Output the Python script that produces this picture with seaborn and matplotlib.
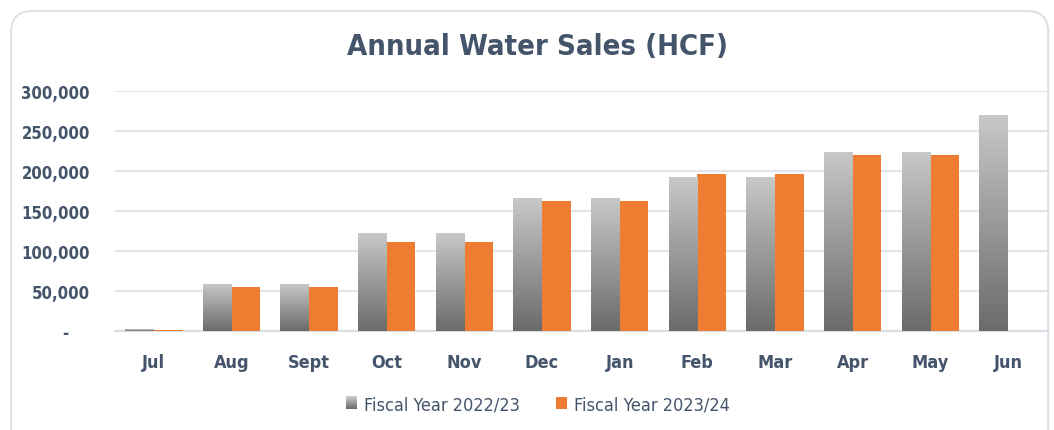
import numpy as np
import pandas as pd
import matplotlib
matplotlib.use("Agg")
import matplotlib.pyplot as plt
import seaborn as sns
from matplotlib.patches import Rectangle, FancyBboxPatch
from matplotlib.legend_handler import HandlerBase
from matplotlib.ticker import FuncFormatter, MultipleLocator

# --------------------------------------
# DATA
# --------------------------------------
months = ["Jul", "Aug", "Sept", "Oct", "Nov", "Dec",
          "Jan", "Feb", "Mar", "Apr", "May", "Jun"]
fy_2223 = [1500, 59000, 59000, 122000, 122000, 166000,
           166000, 192000, 192000, 224000, 224000, 270000]
fy_2324 = [1200, 55000, 55000, 111000, 111000, 162500,
           162500, 195500, 195500, 220000, 220000, np.nan]
series_names = ["Fiscal Year 2022/23", "Fiscal Year 2023/24"]

TEXT = "#44546A"
ORANGE = "#ED7D31"
GRID = "#e1e5eb"

sns.set_theme(style="white")
plt.rcParams["font.family"] = ["DejaVu Sans"]
plt.rcParams["font.stretch"] = "condensed"

df = pd.DataFrame({
    "Month": months * 2,
    "HCF": fy_2223 + fy_2324,
    "Series": [series_names[0]] * 12 + [series_names[1]] * 12,
})

fig = plt.figure(figsize=(10.54, 4.31), dpi=100)

# card outline
card = FancyBboxPatch((0.0105, -0.1), 0.984, 1.072,
                      boxstyle="round,pad=0,rounding_size=0.02",
                      transform=fig.transFigure, facecolor="white",
                      edgecolor="#dde1e7", linewidth=1.5, zorder=-5,
                      mutation_aspect=1054 / 431)
fig.patches.append(card)

ax = fig.add_axes([0.1091, 0.2304, 0.8840, 0.5568])
ax.set_zorder(2)
ax.set_facecolor("none")

sns.barplot(data=df, x="Month", y="HCF", hue="Series", order=months,
            hue_order=series_names, palette=["#9a9a9a", ORANGE],
            width=0.74, saturation=1, errorbar=None, legend=False,
            linewidth=0, ax=ax, zorder=3)

# vertical grey gradient on the 2022/23 bars
cmap = matplotlib.colors.LinearSegmentedColormap.from_list("g", ["#6b6b6b", "#c8c8c8"])
grad = np.linspace(0, 1, 256).reshape(-1, 1)
for bar in ax.containers[0]:
    x, w, h = bar.get_x(), bar.get_width(), bar.get_height()
    if not np.isfinite(h) or h <= 0:
        continue
    bar.set_facecolor("none")
    im = ax.imshow(grad, extent=[x, x + w, 0, h], origin="lower",
                   cmap=cmap, aspect="auto", zorder=3)
    im.set_clip_path(bar)

ax.set_xlim(-0.5, len(months) - 0.5)
ax.set_ylim(0, 300000)
ax.yaxis.set_major_locator(MultipleLocator(50000))
ax.yaxis.set_major_formatter(FuncFormatter(
    lambda v, p: "-    " if v == 0 else f"{int(v):,}"))
ax.grid(axis="y", color=GRID, linewidth=1.5, zorder=0)
ax.set_axisbelow(True)
sns.despine(ax=ax, left=True, top=True, right=True)
ax.spines["bottom"].set_color("#d9dee6")
ax.spines["bottom"].set_linewidth(1.5)
ax.tick_params(axis="y", length=0, pad=18, labelsize=12, labelcolor=TEXT)
ax.tick_params(axis="x", length=0, pad=16, labelsize=13, labelcolor=TEXT)
for lab in ax.get_xticklabels() + ax.get_yticklabels():
    lab.set_fontweight("bold")
ax.set_xlabel("")
ax.set_ylabel("")

fig.text(0.51, 0.892, "Annual Water Sales (HCF)", ha="center", va="center",
         fontsize=21, fontweight="bold", color=TEXT)


class GradientHandler(HandlerBase):
    def create_artists(self, legend, orig_handle, xdescent, ydescent,
                       width, height, fontsize, trans):
        n = 20
        parts = []
        for i in range(n):
            c = cmap(i / (n - 1))
            parts.append(Rectangle((-xdescent, -ydescent + height * i / n),
                                   width, height / n + 0.2, facecolor=c,
                                   edgecolor="none", transform=trans))
        return parts


gray_handle = Rectangle((0, 0), 1, 1)
orange_handle = Rectangle((0, 0), 1, 1, facecolor=ORANGE, edgecolor="none")
fig.legend([gray_handle, orange_handle], series_names,
           handler_map={gray_handle: GradientHandler()},
           loc="center", bbox_to_anchor=(0.51, 0.06), ncol=2, frameon=False,
           fontsize=13, labelcolor=TEXT, handlelength=0.65, handleheight=0.65,
           handletextpad=0.35, columnspacing=2.0)

fig.savefig("out.png", dpi=100)
